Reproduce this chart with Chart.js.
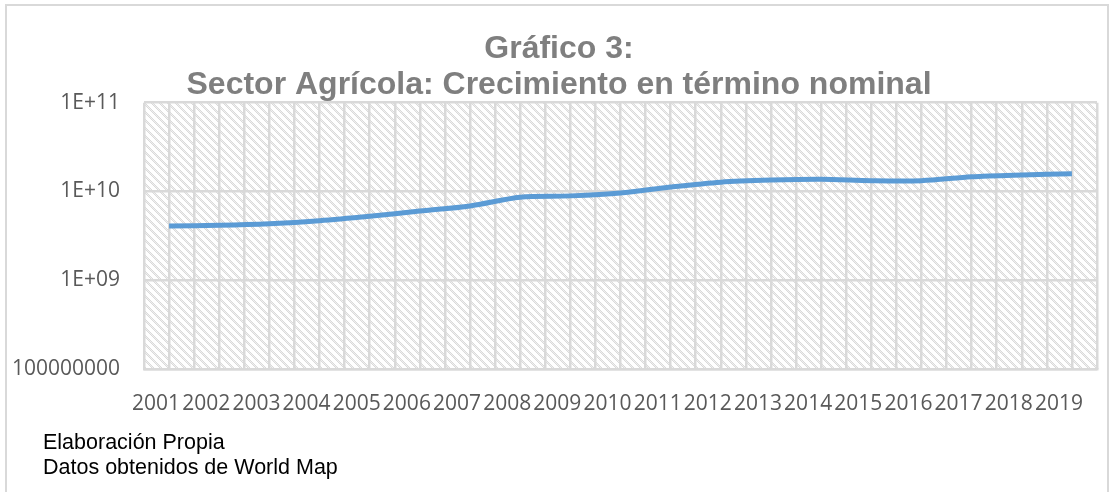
<!DOCTYPE html>
<html>
<head>
<meta charset="utf-8">
<script src="https://cdn.jsdelivr.net/npm/chart.js@4"></script>
<style>
    html, body { margin: 0; padding: 0; background: #fff; }
    #wrap { position: relative; width: 1113px; height: 492px; overflow: hidden; }
    #chart { position: absolute; left: 0; top: 0; }
    #footer {
        position: absolute; left: 43px; top: 430px;
        font-family: 'Liberation Sans', Arial, sans-serif; font-size: 21.5px;
        line-height: 25px; color: #000;
    }
</style>
</head>
<body>
<div id="wrap">
    <canvas id="chart" width="1113" height="492"></canvas>
    <div id="footer">Elaboración Propia<br>Datos obtenidos de World Map</div>
</div>
<script>
const years = ['2001', '2002', '2003', '2004', '2005', '2006', '2007', '2008', '2009', '2010',
    '2011', '2012', '2013', '2014', '2015', '2016', '2017', '2018', '2019'];
const agroValues = [4.07e9, 4.15e9, 4.33e9, 4.68e9, 5.25e9, 6.0e9, 6.86e9, 8.6e9, 8.9e9, 9.6e9,
    1.12e10, 1.27e10, 1.34e10, 1.37e10, 1.32e10, 1.32e10, 1.46e10, 1.53e10, 1.58e10];
const yTicks = [1e8, 1e9, 1e10, 1e11];
const yTickLabels = ['100000000', '1E+09', '1E+10', '1E+11'];
const titleLines = ['Gráfico 3:', 'Sector Agrícola: Crecimiento en término nominal'];

const GRID = '#d9d9d9';
const TICK_COLOR = '#595959';

function makeHatch() {
    const c = document.createElement('canvas');
    c.width = 8; c.height = 8;
    const g = c.getContext('2d');
    const img = g.createImageData(8, 8);
    for (let y = 0; y < 8; y++) {
        for (let x = 0; x < 8; x++) {
            const k = ((x - y) % 8 + 8) % 8;
            let v = 255;
            if (k < 3) v = ((x + y) % 2 === 0) ? 218 : 240;
            const i = (y * 8 + x) * 4;
            img.data[i] = v; img.data[i + 1] = v; img.data[i + 2] = v; img.data[i + 3] = 255;
        }
    }
    g.putImageData(img, 0, 0);
    return c;
}

// hatched plot background + outer frame
const backdrop = {
    id: 'backdrop',
    beforeDraw(chart) {
        const { ctx, chartArea: a } = chart;
        ctx.save();
        ctx.fillStyle = '#fff';
        ctx.fillRect(0, 0, chart.width, chart.height);
        ctx.strokeStyle = GRID;
        ctx.lineWidth = 2;
        ctx.strokeRect(6, 5, 1102, 520);
        ctx.fillStyle = ctx.createPattern(makeHatch(), 'repeat');
        ctx.fillRect(a.left, a.top, a.right - a.left, a.bottom - a.top);
        ctx.restore();
    }
};

new Chart(document.getElementById('chart').getContext('2d'), {
    type: 'line',
    data: {
        labels: years,
        datasets: [{
            label: 'Sector Agrícola',
            data: agroValues,
            borderColor: '#5b9bd5',
            backgroundColor: '#5b9bd5',
            borderWidth: 5,
            pointRadius: 0,
            tension: 0.3,
            fill: false
        }]
    },
    options: {
        responsive: false,
        animation: false,
        layout: { padding: { left: 5, right: 0, top: 0, bottom: 52 } },
        scales: {
            x: {
                type: 'category',
                offset: true,
                grid: { color: GRID, lineWidth: 2.5, offset: false, drawTicks: false },
                border: { display: true, color: GRID, width: 2.5 },
                ticks: {
                    autoSkip: false, maxRotation: 0, minRotation: 0,
                    labelOffset: -13, padding: 2, color: TICK_COLOR,
                    // tall line box pushes the labels down without widening the side padding
                    font: { family: 'Open Sans', size: 21, lineHeight: 3.2 }
                }
            },
            x2: {
                type: 'category',
                position: 'bottom',
                offset: true,
                grid: { color: GRID, lineWidth: 2.5, offset: true, drawTicks: false },
                border: { display: false },
                ticks: { display: false }
            },
            y: {
                type: 'logarithmic',
                min: 1e8,
                max: 1e11,
                afterBuildTicks(scale) {
                    scale.ticks = yTicks.map(v => ({ value: v }));
                },
                afterFit(scale) { scale.width = 139; },
                grid: { color: GRID, lineWidth: 2.5, drawTicks: false },
                border: { display: false },
                ticks: {
                    padding: 24, color: TICK_COLOR,
                    font: { family: 'Open Sans', size: 21 },
                    callback: (value) => {
                        const i = yTicks.indexOf(value);
                        return i >= 0 ? yTickLabels[i] : '';
                    }
                }
            },
            // empty spacer on the right so the title stays centred on the canvas
            yRight: {
                type: 'linear',
                position: 'right',
                afterFit(scale) { scale.width = 16; },
                grid: { display: false, drawTicks: false },
                border: { display: false },
                ticks: { display: false }
            }
        },
        plugins: {
            legend: { display: false },
            tooltip: { enabled: false },
            title: {
                display: true,
                text: titleLines,
                color: '#7f7f7f',
                font: { family: 'Liberation Sans', size: 32, weight: 'bold', lineHeight: 1.12 },
                padding: { top: 31, bottom: 0 }
            }
        }
    },
    plugins: [backdrop]
});
</script>
</body>
</html>
